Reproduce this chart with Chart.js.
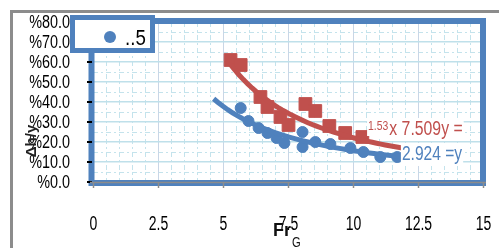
<!DOCTYPE html>
<html>
<head>
<meta charset="utf-8">
<script src="https://cdn.jsdelivr.net/npm/chart.js@4.4.1/dist/chart.umd.min.js"></script>
<style>
  html, body { margin: 0; padding: 0; background: #fff; }
  canvas { display: block; }
</style>
</head>
<body>
<canvas id="chart" width="499" height="248"></canvas>
<script>
// values (y as fractions, axis shows them as percent)
const redX = [5.29, 5.68, 6.44, 6.71, 7.21, 7.52, 8.17, 8.55, 9.09, 9.7, 10.36];
const redY = [0.61, 0.585, 0.425, 0.375, 0.325, 0.285, 0.39, 0.355, 0.28, 0.245, 0.225];
const blueX = [5.68, 5.98, 6.37, 6.71, 7.06, 7.36, 8.06, 8.06, 8.55, 9.13, 9.9, 10.4, 11.05, 11.7];
const blueY = [0.37, 0.305, 0.27, 0.245, 0.22, 0.195, 0.25, 0.175, 0.2, 0.19, 0.17, 0.15, 0.125, 0.125];

// power trendlines y = a * x^b, as printed on the chart
const redFit = { a: 7.509, b: -1.53, from: 5.29, to: 11.9 };
const blueFit = { a: 2.924, b: -1.27, from: 4.64, to: 11.9 };

const legendText = "..5";
const xTitle = "Fr";
const xTitleSub = "G";
const yTitle = "Δh/y";

const RED = "#C0504D";
const BLUE = "#4F81BD";
const FAM = "'Liberation Sans', Arial, sans-serif";

function trend(fit) {
  const pts = [];
  const n = 40;
  for (let i = 0; i <= n; i++) {
    const x = fit.from + (fit.to - fit.from) * i / n;
    pts.push({ x: x, y: fit.a * Math.pow(x, fit.b) });
  }
  return pts;
}

const toPoints = (xs, ys) => xs.map((x, i) => ({ x: x, y: ys[i] }));

// the picture uses a narrow face, so text is squeezed sideways
function narrowText(ctx, text, x, y, sx, align) {
  ctx.save();
  ctx.translate(x, y);
  ctx.scale(sx, 1);
  ctx.textAlign = align || "left";
  ctx.fillText(text, 0, 0);
  ctx.restore();
  return ctx.measureText(text).width * sx;
}

function boxText(ctx, text, x, y, sx, color) {
  const w = ctx.measureText(text).width * sx;
  ctx.fillStyle = "#fff";
  ctx.fillRect(x - 1, y - 17, w + 2, 23);
  ctx.fillStyle = color;
  narrowText(ctx, text, x, y, sx);
  return w;
}

const decor = {
  id: "decor",
  beforeDraw(chart) {
    const { ctx, chartArea: a, scales: { x, y } } = chart;
    ctx.save();
    ctx.fillStyle = "#fff";
    ctx.fillRect(0, 0, chart.width, chart.height);
    // minor dashed grid
    ctx.strokeStyle = "#C4E3EC";
    ctx.lineWidth = 1;
    ctx.setLineDash([5, 3, 2, 3]);
    for (let i = 1; i < 30; i++) {
      if (i % 5 === 0) continue;
      const px = Math.round(x.getPixelForValue(i * 0.5)) + 0.5;
      ctx.beginPath(); ctx.moveTo(px, a.top); ctx.lineTo(px, a.bottom); ctx.stroke();
    }
    for (let i = 0; i < 8; i++) {
      const py = Math.round(y.getPixelForValue(0.05 + i * 0.1)) + 0.5;
      ctx.beginPath(); ctx.moveTo(a.left, py); ctx.lineTo(a.right, py); ctx.stroke();
    }
    ctx.restore();
  },
  afterDatasetsDraw(chart) {
    const { ctx, scales: { x, y } } = chart;
    ctx.save();
    ctx.textBaseline = "alphabetic";
    // red equation
    let lx = x.getPixelForValue(10.58), ly = y.getPixelForValue(0.235);
    ctx.font = "13px " + FAM;
    const w = boxText(ctx, "1.53", lx, ly - 5, 0.8, RED);
    ctx.font = "20px " + FAM;
    boxText(ctx, "x 7.509y =", lx + w + 1, ly, 0.79, RED);
    // blue equation
    lx = x.getPixelForValue(11.88); ly = y.getPixelForValue(0.11);
    boxText(ctx, "2.924 =y", lx, ly, 0.78, BLUE);
    ctx.restore();
  },
  afterDraw(chart) {
    const { ctx, chartArea: a, scales: { x, y } } = chart;
    ctx.save();
    // plot frame
    ctx.strokeStyle = BLUE;
    ctx.lineWidth = 6;
    ctx.strokeRect(a.left - 1.5, a.top - 1, a.right - a.left + 1.5, a.bottom - a.top + 2);
    // y ticks and labels
    ctx.strokeStyle = "#000";
    ctx.fillStyle = "#000";
    ctx.lineWidth = 2;
    ctx.font = "18px " + FAM;
    ctx.textBaseline = "middle";
    y.ticks.forEach(t => {
      const py = Math.round(y.getPixelForValue(t.value));
      ctx.beginPath(); ctx.moveTo(a.left - 6, py); ctx.lineTo(a.left - 1, py); ctx.stroke();
      narrowText(ctx, "%" + (t.value * 100).toFixed(1), a.left - 23, py + 1, 0.8, "right");
    });
    // x axis line, ticks and labels on top of the frame
    ctx.strokeStyle = "#8C8C8C";
    ctx.lineWidth = 1.5;
    ctx.beginPath(); ctx.moveTo(a.left - 3, a.bottom + 0.5); ctx.lineTo(a.right + 3, a.bottom + 0.5); ctx.stroke();
    ctx.font = "20px " + FAM;
    ctx.textBaseline = "alphabetic";
    x.ticks.forEach(t => {
      const px = Math.round(x.getPixelForValue(t.value)) + 0.5;
      ctx.beginPath(); ctx.moveTo(px, a.bottom); ctx.lineTo(px, a.bottom + 6); ctx.stroke();
      narrowText(ctx, String(t.value), px, 230, 0.7, "center");
    });
    // legend box
    ctx.fillStyle = "#fff";
    ctx.fillRect(70, 15, 85, 38);
    ctx.strokeStyle = BLUE;
    ctx.lineWidth = 5;
    ctx.strokeRect(72.5, 17.5, 80, 33);
    ctx.fillStyle = BLUE;
    ctx.beginPath(); ctx.arc(110, 37, 6, 0, Math.PI * 2); ctx.fill();
    ctx.fillStyle = "#000";
    ctx.font = "22px " + FAM;
    narrowText(ctx, legendText, 125, 45, 0.85);
    // axis titles
    ctx.font = "bold 18px " + FAM;
    ctx.fillStyle = "#111";
    const w = narrowText(ctx, xTitle, 273, 236, 1);
    ctx.font = "14px " + FAM;
    narrowText(ctx, xTitleSub, 273 + w + 1, 247, 0.8);
    ctx.translate(36, 141);
    ctx.rotate(-Math.PI / 2);
    ctx.font = "bold 15px " + FAM;
    ctx.fillStyle = "#222";
    ctx.textAlign = "center";
    ctx.fillText(yTitle, 0, 0);
    ctx.restore();
    // outer gray border
    ctx.save();
    ctx.strokeStyle = "#8C8C8C";
    ctx.lineWidth = 3;
    ctx.strokeRect(11.5, 11.5, 1000, 1000);
    ctx.restore();
  }
};

new Chart(document.getElementById("chart"), {
  type: "scatter",
  data: {
    datasets: [
      { label: "blue", data: toPoints(blueX, blueY), backgroundColor: BLUE, borderColor: BLUE,
        pointStyle: "circle", pointRadius: 5.5, order: 4 },
      { label: "blue fit", type: "line", data: trend(blueFit), borderColor: BLUE, borderWidth: 5,
        pointRadius: 0, fill: false, tension: 0, order: 3 },
      { label: "red", data: toPoints(redX, redY), backgroundColor: RED, borderColor: RED,
        pointStyle: "rect", pointRadius: 9, order: 2 },
      { label: "red fit", type: "line", data: trend(redFit), borderColor: RED, borderWidth: 5,
        pointRadius: 0, fill: false, tension: 0, order: 1 }
    ]
  },
  options: {
    responsive: false,
    animation: false,
    events: [],
    layout: { padding: { top: 22, right: 16, bottom: 0, left: 0 } },
    plugins: { legend: { display: false }, tooltip: { enabled: false } },
    scales: {
      x: {
        type: "linear", min: 0, max: 15,
        afterFit: s => { s.height = 66; },
        border: { display: false },
        grid: { color: "#C9D6E6", lineWidth: 1, drawTicks: false },
        ticks: { stepSize: 2.5, display: false }
      },
      y: {
        type: "linear", min: 0, max: 0.8,
        afterFit: s => { s.width = 93; },
        border: { display: false },
        grid: { color: "#BFE0EA", lineWidth: 1.5, drawTicks: false },
        ticks: { stepSize: 0.1, display: false }
      }
    }
  },
  plugins: [decor]
});
</script>
</body>
</html>
